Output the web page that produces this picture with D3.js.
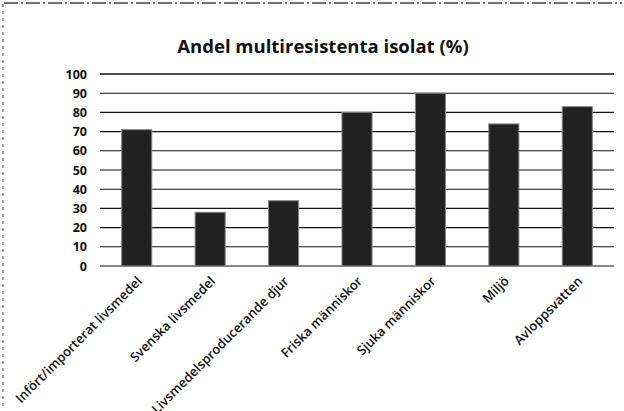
<!DOCTYPE html>
<html>
<head>
<meta charset="utf-8">
<title>Andel multiresistenta isolat</title>
<script src="https://cdn.jsdelivr.net/npm/d3@7"></script>
<style>
  body { margin: 0; background: #fff; }
  text { font-family: "Open Sans", "Noto Sans", sans-serif; }
</style>
</head>
<body>
<script>
// data
var categories = ["Infört/importerat livsmedel", "Svenska livsmedel", "Livsmedelsproducerande djur",
                  "Friska människor", "Sjuka människor", "Miljö", "Avloppsvatten"];
var values = [71, 28, 34, 80, 90, 74, 83];
var yTicks = [0, 10, 20, 30, 40, 50, 60, 70, 80, 90, 100];
var title = "Andel multiresistenta isolat (%)";

var W = 624, H = 411;
var svg = d3.select("body").append("svg")
  .attr("width", W)
  .attr("height", H);

// scanned page border
svg.append("line").attr("x1", 4).attr("x2", 622).attr("y1", 3).attr("y2", 3)
  .attr("stroke", "#444").attr("stroke-width", 1.5).attr("stroke-dasharray", "14 3 2 3");
svg.append("line").attr("x1", 3).attr("x2", 3).attr("y1", 4).attr("y2", 408)
  .attr("stroke", "#666").attr("stroke-width", 1.2).attr("stroke-dasharray", "3 4");

var x = d3.scaleBand()
  .domain(categories)
  .range([100, 614])
  .paddingInner(0.59)
  .paddingOuter(0.295);

var y = d3.scaleLinear()
  .domain([0, 100])
  .range([266, 74]);

svg.append("text")
  .attr("x", 323)
  .attr("y", 53)
  .attr("text-anchor", "middle")
  .attr("font-size", 18.5)
  .attr("font-weight", "bold")
  .attr("fill", "#111")
  .text(title);

// gridlines
svg.selectAll("line.grid")
  .data(yTicks)
  .enter()
    .append("line")
    .attr("class", "grid")
    .attr("x1", 100)
    .attr("x2", 614)
    .attr("y1", function(d){ return y(d); })
    .attr("y2", function(d){ return y(d); })
    .attr("stroke", "#111")
    .attr("stroke-width", function(d){ return d == 100 ? 1.6 : 1.1; });

// y labels
svg.selectAll("text.ylab")
  .data(yTicks)
  .enter()
    .append("text")
    .attr("class", "ylab")
    .attr("x", 87)
    .attr("y", function(d){ return y(d) + 4.5; })
    .attr("text-anchor", "end")
    .attr("font-size", 12.5)
    .attr("font-weight", "bold")
    .attr("fill", "#111")
    .text(function(d){ return d; });

// bars
svg.selectAll("rect.bar")
  .data(values)
  .enter()
    .append("rect")
    .attr("class", "bar")
    .attr("x", function(d, i){ return x(categories[i]); })
    .attr("width", x.bandwidth())
    .attr("y", function(d){ return y(d); })
    .attr("height", function(d){ return y(0) - y(d); })
    .attr("fill", "#222")
    .attr("stroke", "#888")
    .attr("stroke-width", 1);

// x labels
svg.selectAll("text.xlab")
  .data(categories)
  .enter()
    .append("text")
    .attr("class", "xlab")
    .attr("transform", function(d){
      return "translate(" + (x(d) + x.bandwidth() / 2 + 6) + ",282) rotate(-45)";
    })
    .attr("text-anchor", "end")
    .attr("font-size", 13)
    .attr("font-weight", 600)
    .attr("fill", "#111")
    .text(function(d){ return d; });
</script>
</body>
</html>
